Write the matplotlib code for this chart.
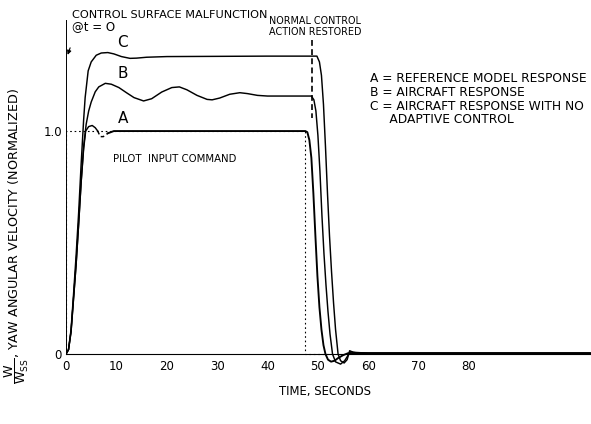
import numpy as np
import matplotlib
matplotlib.use("Agg")
from matplotlib import pyplot as plt

plt.rcParams['font.family'] = ['DejaVu Sans']
plt.rcParams['mathtext.default'] = 'regular'

# time axis tick labels (seconds)
time_ticks = [0, 10, 20, 30, 40, 50, 60, 70, 80]

# A = reference model response
a_t = [0, 0.5, 1.0, 1.5, 2.0, 2.5, 3.0, 3.5, 3.9, 4.5, 5.2, 5.8, 6.3,
       6.8, 7.4, 8.3, 9.5, 12, 20, 30, 40, 47.5, 47.9, 48.3, 48.7, 49.1,
       49.5, 49.9, 50.3, 50.7, 51.1, 51.5, 52.0, 52.6, 53.3, 54.0, 55.0,
       56.0, 58.0, 70, 90, 104]
a_v = [0, 0.02, 0.10, 0.25, 0.40, 0.58, 0.77, 0.92, 1.0, 1.02, 1.025, 1.015, 1.0,
       0.975, 0.975, 0.99, 1.0, 1.0, 1.0, 1.0, 1.0, 1.0, 0.995, 0.96, 0.88, 0.72,
       0.53, 0.35, 0.21, 0.11, 0.04, 0.0, -0.025, -0.034, -0.03, -0.018, -0.005,
       0.004, 0.004, 0.004, 0.004, 0.004]
a_dash_from, a_dash_to = 6.3, 8.3   # dashed stretch of curve A

# B = aircraft response
b_t = [0, 0.5, 1.0, 1.5, 2.0, 2.5, 3.0, 3.5, 4.0, 4.5, 5.0, 5.8, 6.5, 7.8,
       9.0, 10.5, 12, 13.5, 15.4, 17, 19, 21, 22.5, 24, 26, 28, 29, 30.5,
       32.5, 34.5, 36, 38, 40, 48.7, 49.2, 49.6, 50.0, 50.4, 50.8, 51.2,
       51.6, 52.0, 52.4, 52.9, 53.5, 54.5, 55.3, 56.0, 56.5, 57.5, 60, 80, 104]
b_v = [0, 0.02, 0.10, 0.25, 0.40, 0.58, 0.77, 0.93, 1.03, 1.09, 1.13, 1.176, 1.198, 1.214,
       1.21, 1.195, 1.172, 1.15, 1.135, 1.145, 1.175, 1.195, 1.198, 1.185, 1.16, 1.142, 1.14, 1.148,
       1.165, 1.172, 1.168, 1.16, 1.157, 1.157, 1.14, 1.09, 0.98, 0.82, 0.62, 0.45,
       0.31, 0.19, 0.09, 0.0, -0.035, -0.045, -0.03, -0.005, 0.01, 0.006, 0.004, 0.004, 0.004]

# C = aircraft response with no adaptive control
c_t = [0, 0.5, 1.0, 1.5, 2.0, 2.5, 3.0, 3.5, 3.8, 4.4, 5.0, 6.0, 7.0, 8.3,
       9.5, 11, 12.7, 14, 16, 20, 30, 40, 49.8, 50.3, 50.7, 51.1, 51.5, 51.9,
       52.3, 52.7, 53.1, 53.5, 54.0, 54.5, 55.2, 55.8, 56.3, 57.0, 60, 80, 104]
c_v = [0, 0.02, 0.11, 0.27, 0.44, 0.63, 0.85, 1.05, 1.15, 1.27, 1.31, 1.34, 1.35, 1.352,
       1.346, 1.334, 1.326, 1.327, 1.331, 1.334, 1.335, 1.336, 1.336, 1.31, 1.25, 1.12, 0.93, 0.72,
       0.53, 0.37, 0.23, 0.11, 0.0, -0.03, -0.04, -0.025, 0.015, 0.008, 0.004, 0.004, 0.004]

# pilot input command (step on at t=0, off at t=47.5)
pilot_t = [0, 0, 47.5, 47.5, 52]
pilot_v = [0, 1.0, 1.0, 0, 0]

t_restored = 48.8
legend_lines = ["A = REFERENCE MODEL RESPONSE",
                "B = AIRCRAFT RESPONSE",
                "C = AIRCRAFT RESPONSE WITH NO",
                "     ADAPTIVE CONTROL"]

W, H = 591, 424
fig = plt.figure(figsize=(W / 100, H / 100), dpi=100)
ax = fig.add_axes([66 / W, (H - 367) / H, (W - 66) / W, (367 - 20) / H])
ax.set_xlim(0, 104.2)
ax.set_ylim(-0.058, 1.498)

def fx(px):
    return px / W

def fy(py):
    return 1 - py / H

lw = 1.05
# pilot command, dotted
ax.plot(pilot_t, pilot_v, color='k', lw=0.8, ls=(0, (1.5, 2.5)))

# curve A with its dashed stretch
a_t = np.array(a_t)
a_v = np.array(a_v)
m1 = a_t <= a_dash_from
m2 = (a_t >= a_dash_from) & (a_t <= a_dash_to)
m3 = a_t >= a_dash_to
ax.plot(a_t[m1], a_v[m1], color='k', lw=lw)
ax.plot(a_t[m2], a_v[m2], color='k', lw=lw, ls=(0, (2.5, 2)))
ax.plot(a_t[m3], a_v[m3], color='k', lw=lw * 1.3)

ax.plot(b_t, b_v, color='k', lw=lw)
ax.plot(c_t, c_v, color='k', lw=lw)

# normal control restored marker
ax.plot([t_restored, t_restored], [1.41, 1.06], color='k', lw=1.2, ls=(0, (3.5, 2)))

# curve letters
ax.text(11.3, 1.395, "C", fontsize=11, ha='center', va='center')
ax.text(11.3, 1.26, "B", fontsize=11, ha='center', va='center')
ax.text(11.3, 1.058, "A", fontsize=11, ha='center', va='center')

# malfunction arrow
ax.annotate('', xy=(0.15, 1.33), xytext=(1.0, 1.385),
            arrowprops=dict(arrowstyle='-|>', lw=0.8, color='k', mutation_scale=6))

# axes styling
for s in ['top', 'right']:
    ax.spines[s].set_visible(False)
ax.spines['bottom'].set_position(('data', 0))
ax.spines['left'].set_bounds(0, 1.498)
ax.spines['left'].set_linewidth(0.7)
ax.spines['bottom'].set_linewidth(0.8)
ax.set_xticks(time_ticks)
ax.set_xticklabels([str(t) for t in time_ticks], fontsize=8.5)
ax.set_yticks([0, 1.0])
ax.set_yticklabels(["0", "1.0"], fontsize=8.5)
ax.tick_params(length=0, pad=3)
ax.tick_params(axis='x', pad=4)

fig.text(fx(325), fy(391), "TIME, SECONDS", fontsize=8.4, ha='center', va='center')
fig.text(fx(17), fy(236), r"$\dfrac{W}{W_{SS}}$, YAW ANGULAR VELOCITY (NORMALIZED)",
         fontsize=9.2, rotation=90, ha='center', va='center')
fig.text(fx(72), fy(15), "CONTROL SURFACE MALFUNCTION", fontsize=8.1, ha='left', va='center')
fig.text(fx(72), fy(27), "@t = O", fontsize=8.5, ha='left', va='center')
fig.text(fx(315), fy(21), "NORMAL CONTROL", fontsize=6.9, ha='center', va='center')
fig.text(fx(315), fy(32), "ACTION RESTORED", fontsize=6.9, ha='center', va='center')
fig.text(fx(113), fy(159), "PILOT  INPUT COMMAND", fontsize=7.3, ha='left', va='center')
for i, line in enumerate(legend_lines):
    fig.text(fx(370), fy(79 + 13.5 * i), line, fontsize=8.8, ha='left', va='center')

fig.savefig("out.png", dpi=100)
